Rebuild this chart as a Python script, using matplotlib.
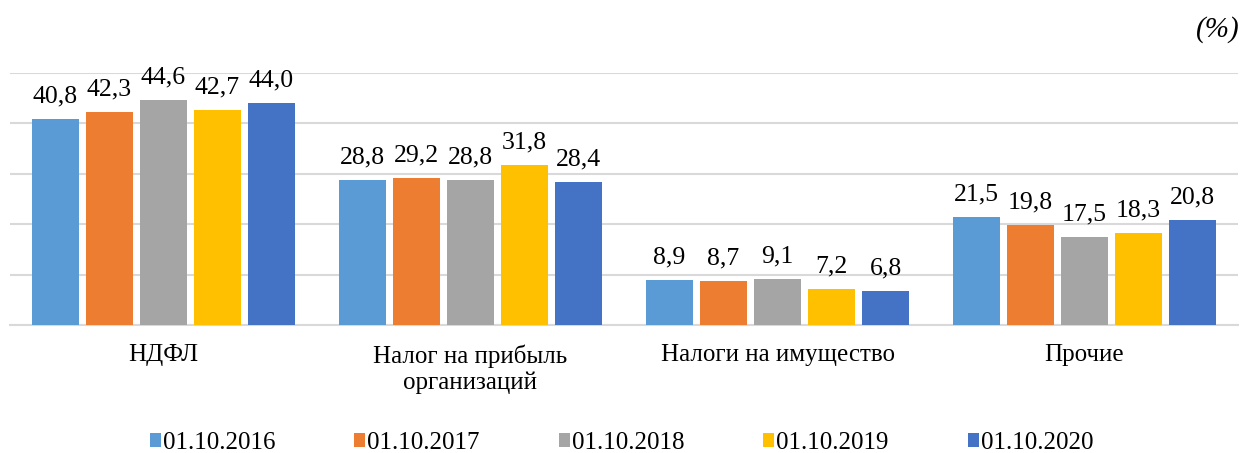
import numpy as np
import matplotlib.pyplot as plt
from matplotlib.patches import Patch

categories = ['НДФЛ', 'Налог на прибыль\nорганизаций', 'Налоги на имущество', 'Прочие']
dates = ['01.10.2016', '01.10.2017', '01.10.2018', '01.10.2019', '01.10.2020']
v2016 = [40.8, 28.8, 8.9, 21.5]
v2017 = [42.3, 29.2, 8.7, 19.8]
v2018 = [44.6, 28.8, 9.1, 17.5]
v2019 = [42.7, 31.8, 7.2, 18.3]
v2020 = [44.0, 28.4, 6.8, 20.8]
series = [v2016, v2017, v2018, v2019, v2020]
colors = ['#5B9BD5', '#ED7D31', '#A5A5A5', '#FFC000', '#4472C4']

plt.rcParams['font.family'] = ['Liberation Serif', 'DejaVu Serif']

fig = plt.figure(figsize=(12.48, 4.53), dpi=100)
ax = fig.add_axes([0.008, 0.2826, 0.984, 0.5563])

x = np.arange(len(categories))
w = 0.155
step = 0.176
for i, (vals, c) in enumerate(zip(series, colors)):
    pos = x + (i - 2) * step
    ax.bar(pos, vals, width=w, color=c, zorder=3)
    for p, v in zip(pos, vals):
        ax.text(p, v + 3.3, f'{v:.1f}'.replace('.', ','), ha='center', va='baseline',
                fontsize=18.5, color='#000000')

ax.set_xlim(-0.5, 3.5)
ax.set_ylim(0, 50)
ax.set_yticks(np.arange(0, 51, 10))
ax.yaxis.grid(True, color='#d9d9d9', linewidth=1.5, zorder=0)
ax.tick_params(axis='y', left=False, labelleft=False)
ax.tick_params(axis='x', length=0, pad=14, labelsize=18)
ax.set_xticks(x)
ax.set_xticklabels(categories, linespacing=1.2)
for s in ['top', 'right', 'left']:
    ax.spines[s].set_visible(False)
ax.spines['bottom'].set_color('#d9d9d9')
ax.spines['bottom'].set_linewidth(1.5)

fig.text(0.993, 0.935, '(%)', ha='right', va='center', fontsize=21, style='italic')

handles = [Patch(facecolor=c, edgecolor='none') for c in colors]
fig.legend(handles, dates, loc='center', bbox_to_anchor=(0.498, 0.022), ncol=5,
           frameon=False, fontsize=18, handlelength=0.45, handleheight=0.45,
           handletextpad=0.08, columnspacing=3.15)

fig.savefig('out.png', dpi=100)
